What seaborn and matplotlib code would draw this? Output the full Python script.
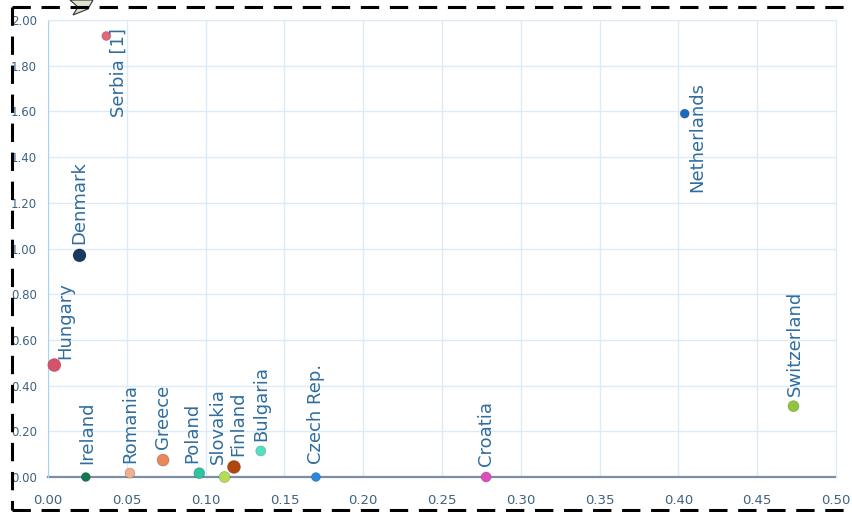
import matplotlib
matplotlib.use("Agg")

import matplotlib.pyplot as plt
import matplotlib.patches as mpatches
from matplotlib.lines import Line2D
import pandas as pd
import seaborn as sns

# =========================
# DATA
# =========================
countries = ["Hungary", "Denmark", "Serbia [1]", "Ireland", "Romania", "Greece",
             "Poland", "Slovakia", "Finland", "Bulgaria", "Czech Rep.", "Croatia",
             "Netherlands", "Switzerland"]
x_values = [0.004, 0.020, 0.037, 0.024, 0.052, 0.073,
            0.096, 0.112, 0.118, 0.135, 0.170, 0.278,
            0.404, 0.473]
y_values = [0.49, 0.97, 1.93, 0.00, 0.017, 0.074,
            0.017, 0.00, 0.044, 0.114, 0.00, 0.00,
            1.59, 0.31]
x_ticks = [0.00, 0.05, 0.10, 0.15, 0.20, 0.25, 0.30, 0.35, 0.40, 0.45, 0.50]
y_ticks = [0.00, 0.20, 0.40, 0.60, 0.80, 1.00, 1.20, 1.40, 1.60, 1.80, 2.00]

# -------- style par pays
colors = ["#d9506a", "#183a5e", "#e06878", "#12784f", "#f0b08e", "#e8885a",
          "#2ec4a0", "#b3dd55", "#b0460e", "#52e0c2", "#2a88e0", "#e04cc0",
          "#1a68c0", "#8fc63e"]
diam_px = [13, 13, 9, 9, 10, 12, 11, 11, 13, 10, 9, 10, 9, 11]
# decalage des etiquettes (points), alignement vertical
label_offsets = {
    "Hungary": (8, 4, "bottom"), "Denmark": (0, 8, "bottom"),
    "Serbia [1]": (9, 6, "top"), "Ireland": (1, 9, "bottom"),
    "Romania": (0, 7, "bottom"), "Greece": (0, 8, "bottom"),
    "Poland": (-5, 7, "bottom"), "Slovakia": (-5, 9, "bottom"),
    "Finland": (3, 8, "bottom"), "Bulgaria": (0, 7, "bottom"),
    "Czech Rep.": (0, 9, "bottom"), "Croatia": (0, 8, "bottom"),
    "Netherlands": (9, -17, "center"), "Switzerland": (1, 7, "bottom"),
}

df = pd.DataFrame({"country": countries, "x": x_values, "y": y_values})

# =========================
# FIGURE
# =========================
sns.set_style("white")
plt.rcParams["font.family"] = ["DejaVu Sans"]

W, H = 852, 512
fig = plt.figure(figsize=(W / 100, H / 100), dpi=100)
ax = fig.add_axes([48 / W, 35 / H, 788 / W, 457 / H])

sns.scatterplot(
    data=df, x="x", y="y", hue="country",
    palette=dict(zip(countries, colors)),
    size="country",
    sizes={c: (d * 0.72) ** 2 for c, d in zip(countries, diam_px)},
    edgecolor="#00000033", linewidth=0.6,
    legend=False, ax=ax, zorder=3, clip_on=False,
)

for c, xv, yv in zip(countries, x_values, y_values):
    dx, dy, va = label_offsets[c]
    ax.annotate(c, (xv, yv), xytext=(dx, dy), textcoords="offset points",
                rotation=90, ha="center", va=va, fontsize=13,
                color="#2f6d9e", zorder=4)

ax.set_xlim(0, 0.5)
ax.set_ylim(0, 2.0)
ax.set_xticks(x_ticks)
ax.set_yticks(y_ticks)
ax.set_xticklabels([f"{v:.2f}" for v in x_ticks])
ax.set_yticklabels([f"{v:.2f}" for v in y_ticks])
ax.tick_params(axis="x", length=0, pad=12, labelsize=9.5, labelcolor="#3d6280")
ax.tick_params(axis="y", length=0, pad=8, labelsize=8.5, labelcolor="#3d6280")
ax.set_xlabel("")
ax.set_ylabel("")

ax.grid(True, color="#dcebf7", linewidth=1)
ax.set_axisbelow(True)
for side in ["top", "right"]:
    ax.spines[side].set_color("#dcebf7")
ax.spines["left"].set_color("#a9d3f2")
ax.spines["bottom"].set_color("#7c8ea5")
ax.spines["bottom"].set_linewidth(1.6)
ax.spines["bottom"].set_zorder(2)

# -------- cadre pointille (haut, gauche, bas) + pointe de bulle
dash = dict(color="black", linewidth=2.2, linestyle=(0, (6, 3.5)),
            transform=fig.transFigure)
for xs, ys in [((12, W), (7, 7)), ((12, 12), (7, 510)), ((12, W), (510, 510))]:
    fig.add_artist(Line2D([x / W for x in xs], [1 - y / H for y in ys], **dash))
tip = mpatches.Polygon([(70 / W, 1.0), (78 / W, 1 - 7 / H), (73 / W, 1 - 15 / H),
                        (88 / W, 1 - 9 / H), (93 / W, 1.0)],
                       closed=True, transform=fig.transFigure,
                       facecolor="#dfe3cc", edgecolor="#333333", linewidth=0.8)
fig.add_artist(tip)

fig.savefig("out.png", dpi=100)
plt.close(fig)
